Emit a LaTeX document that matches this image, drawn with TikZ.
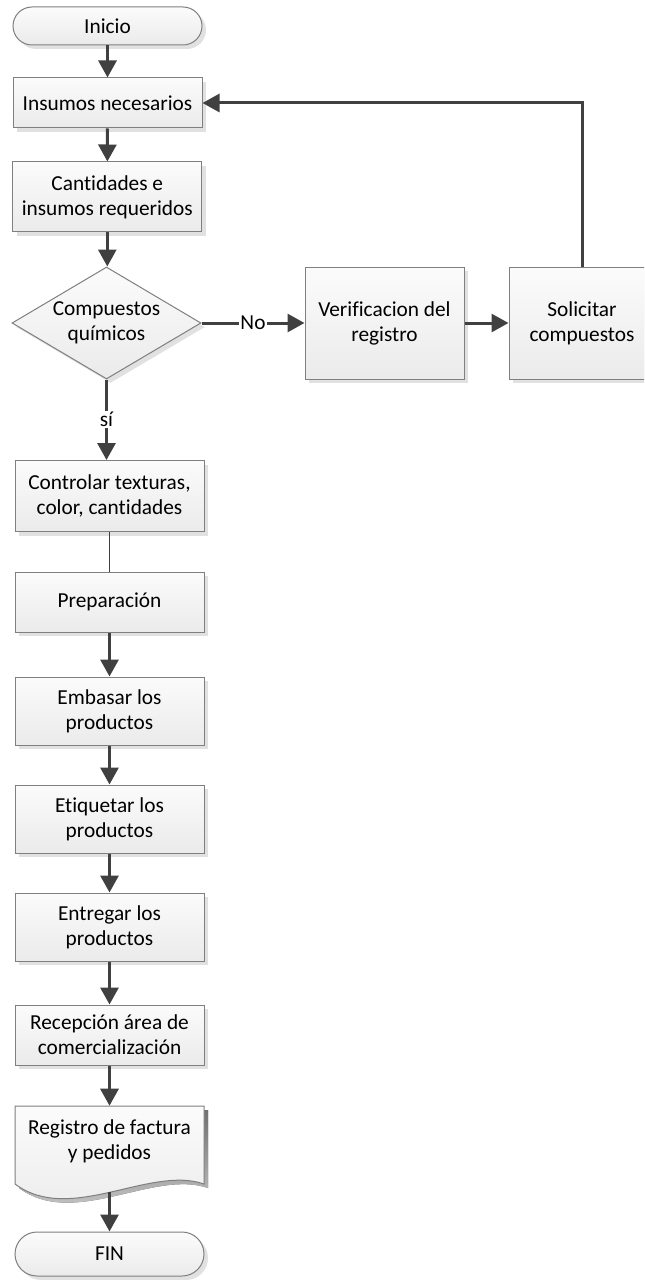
\documentclass[tikz,border=0pt]{standalone}
\usepackage{fontspec}
\setmainfont{Carlito}[Ligatures={NoCommon}]
\usetikzlibrary{arrows.meta,shapes.geometric,shadows}
\newlength\pxu
\setlength\pxu{0.75pt}
\definecolor{edge}{HTML}{7F7F7F}
\definecolor{flow}{HTML}{404040}
\definecolor{shade}{HTML}{DADADA}
\tikzset{
  txt/.style={font=\fontsize{16}{18.8}\selectfont, align=center},
  base/.style={txt, draw=edge, line width=1\pxu, top color=gray!3, bottom color=gray!16,
    inner sep=0pt,
    drop shadow={shadow xshift=4\pxu, shadow yshift=-4\pxu, fill=shade, opacity=0.8}},
  procbox/.style={base, rectangle, minimum width=189\pxu},
  term/.style={base, rectangle, minimum width=189\pxu},
  decision/.style={base, diamond, aspect=1.6875, minimum width=189\pxu, minimum height=112\pxu},
  flowarrow/.style={draw=flow, line width=2.25pt, -{Triangle[length=12.75pt, width=13.5pt]}},
  flowline/.style={draw=flow, line width=0.75pt},
  lbl/.style={txt, fill=white, inner sep=0.75pt}
}
\begin{document}
\begin{tikzpicture}[x=1\pxu, y=-1\pxu]
\useasboundingbox (0,0) rectangle (644,1280);
\clip (0,0) rectangle (644,1280);

% main column
\node[term, rounded corners=19\pxu, minimum height=38\pxu] (ini) at (107.5,26) {Inicio};
\node[procbox, minimum height=50\pxu] (ins) at (107.5,103) {Insumos necesarios};
\node[procbox, minimum height=70\pxu] (can) at (107.3,197) {Cantidades e\\insumos requeridos};
\node[decision] (dia) at (106.5,323) {};
\node[txt] (diatxt) at (dia.center) {Compuestos\\químicos};

% side branch
\node[procbox, minimum width=159\pxu, minimum height=112\pxu] (ver) at (384.5,323) {Verificacion del\\registro};
\node[procbox, minimum width=146\pxu, minimum height=112\pxu] (sol) at (582,323) {Solicitar\\compuestos};

% lower column
\node[procbox, minimum height=71\pxu] (ctl) at (109.5,496) {Controlar texturas,\\color, cantidades};
\node[procbox, minimum height=60\pxu] (pre) at (109.5,602) {Preparación};
\node[procbox, minimum height=68\pxu] (emb) at (109.5,711) {Embasar los\\productos};
\node[procbox, minimum height=68\pxu] (eti) at (109.5,819) {Etiquetar los\\productos};
\node[procbox, minimum height=68\pxu] (ent) at (109.5,927) {Entregar los\\productos};
\node[procbox, minimum height=60\pxu] (rec) at (109.5,1035) {Recepción área de\\comercialización};

% document shape with wavy bottom
\fill[shade, opacity=0.8, shift={(4,4)}]
  (15,1106) -- (204,1106) -- (204,1184) .. controls (150,1165) and (70,1225) .. (15,1184) -- cycle;
\draw[draw=edge, line width=1\pxu, top color=gray!3, bottom color=gray!16]
  (15,1106) -- (204,1106) -- (204,1184) .. controls (150,1165) and (70,1225) .. (15,1184) -- cycle;
\node[txt, minimum width=189\pxu, minimum height=70\pxu, inner sep=0pt] (reg) at (109.5,1141) {Registro de factura\\y pedidos};
\coordinate (regbot) at (109.5,1192);

\node[term, rounded corners=22\pxu, minimum height=44\pxu] (fin) at (109.5,1254) {FIN};

% connectors
\draw[flowarrow] (ini) -- (ins);
\draw[flowarrow] (ins) -- (can);
\draw[flowarrow] (can.south) -- (can.south |- dia.north);
\draw[flowarrow] (dia.east) -- node[lbl] {No} (ver.west);
\draw[flowarrow] (ver) -- (sol);
\draw[flowarrow] (sol.north) |- (ins.east);
\draw[flowarrow] (dia.south) -- node[lbl] {sí} (dia.south |- ctl.north);
\draw[flowline] (ctl) -- (pre);
\draw[flowarrow] (pre) -- (emb);
\draw[flowarrow] (emb) -- (eti);
\draw[flowarrow] (eti) -- (ent);
\draw[flowarrow] (ent) -- (rec);
\draw[flowarrow] (rec) -- (reg);
\draw[flowarrow] (regbot) -- (fin);
\end{tikzpicture}
\end{document}
